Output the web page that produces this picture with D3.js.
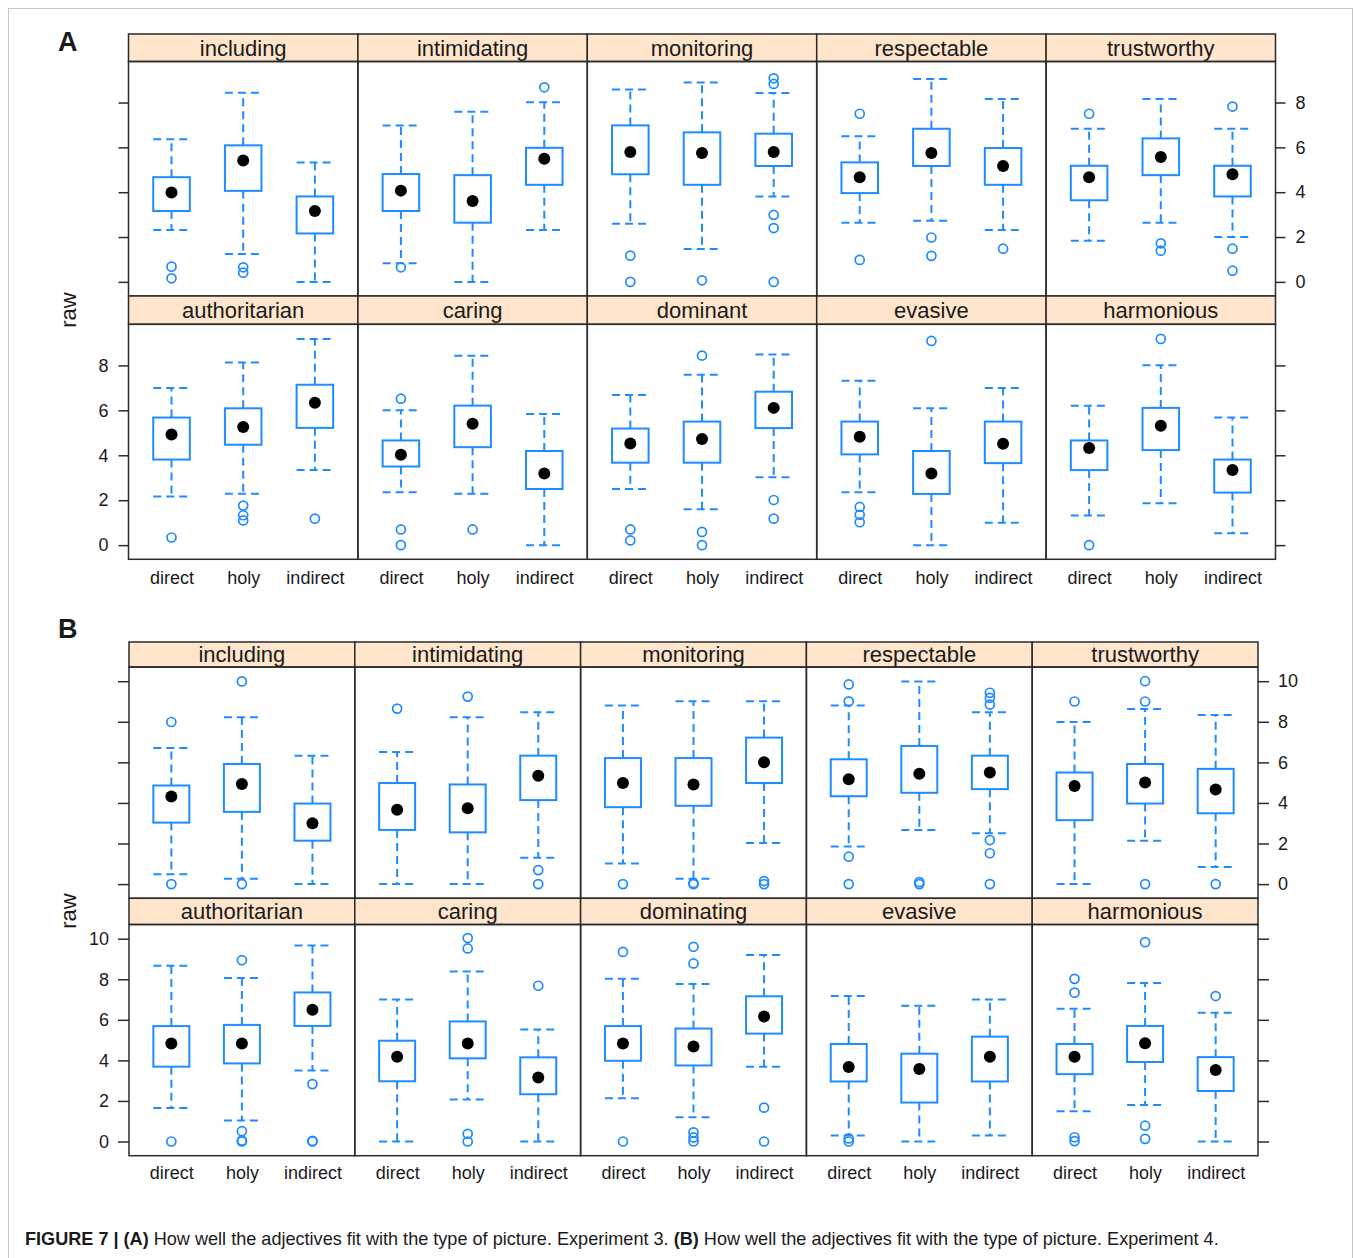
<!DOCTYPE html>
<html>
<head>
<meta charset="utf-8">
<script src="https://cdn.jsdelivr.net/npm/d3@7"></script>
<style>
  body { margin: 0; background: #fff; }
  text { font-family: "Liberation Sans", Arial, sans-serif; fill: #1a1a1a; }
</style>
</head>
<body>
<svg id="chart" width="1354" height="1258"></svg>
<script>
const groups = ['direct', 'holy', 'indirect']

// Experiment 3 (panel A), lattice order: top row first
const adjA = ['including', 'intimidating', 'monitoring', 'respectable', 'trustworthy',
  'authoritarian', 'caring', 'dominant', 'evasive', 'harmonious']
// [lower whisker, Q1, median, Q3, upper whisker] for direct / holy / indirect
const boxesA = [
  [[2.31, 3.16, 3.99, 4.67, 6.36], [1.24, 4.06, 5.41, 6.09, 8.44], [0, 2.16, 3.16, 3.81, 5.33]],
  [[0.83, 3.16, 4.07, 4.81, 6.98], [0, 2.64, 3.61, 4.76, 7.59], [2.31, 4.33, 5.49, 5.98, 8.01]],
  [[2.59, 4.8, 5.79, 6.98, 8.58], [1.47, 4.33, 5.75, 6.67, 8.89], [3.81, 5.17, 5.79, 6.61, 8.43]],
  [[2.64, 3.96, 4.67, 5.33, 6.5], [2.73, 5.17, 5.75, 6.83, 9.05], [2.31, 4.33, 5.17, 5.97, 8.16]],
  [[1.84, 3.64, 4.67, 5.18, 6.83], [2.64, 4.76, 5.57, 6.4, 8.16], [2.0, 3.81, 4.8, 5.18, 6.83]],
  [[2.16, 3.81, 4.92, 5.68, 6.99], [2.29, 4.47, 5.26, 6.09, 8.13], [3.34, 5.22, 6.34, 7.14, 9.18]],
  [[2.35, 3.5, 4.02, 4.66, 6.0], [2.29, 4.36, 5.4, 6.21, 8.43], [0, 2.5, 3.19, 4.19, 5.84]],
  [[2.5, 3.67, 4.52, 5.19, 6.68], [1.6, 3.67, 4.72, 5.5, 7.58], [3.02, 5.21, 6.11, 6.83, 8.49]],
  [[2.35, 4.04, 4.83, 5.5, 7.32], [0, 2.28, 3.19, 4.19, 6.09], [1.0, 3.65, 4.51, 5.5, 6.99]],
  [[1.32, 3.34, 4.32, 4.66, 6.2], [1.86, 4.23, 5.31, 6.11, 8.01], [0.53, 2.34, 3.34, 3.81, 5.68]]
]
const outliersA = [
  [[0.68, 0.16], [0.65, 0.41], []],
  [[0.65], [], [8.68]],
  [[1.17, 0], [0.07], [9.08, 8.83, 2.99, 2.4, 0]],
  [[7.5, 0.98], [1.98, 1.16], [1.48]],
  [[7.5], [1.72, 1.39], [7.82, 1.48, 0.5]],
  [[0.34], [1.76, 1.33, 1.1], [1.18]],
  [[6.52, 0.7, 0], [0.7], []],
  [[0.7, 0.21], [8.44, 0.59, 0], [2.01, 1.18]],
  [[1.7, 1.35, 1.02], [9.09], []],
  [[0], [9.18], []]
]
const ticksA = [0, 2, 4, 6, 8]

// Experiment 4 (panel B)
const adjB = ['including', 'intimidating', 'monitoring', 'respectable', 'trustworthy',
  'authoritarian', 'caring', 'dominating', 'evasive', 'harmonious']
const boxesB = [
  [[0.48, 3.03, 4.32, 4.86, 6.71], [0.26, 3.56, 4.93, 5.92, 8.22], [0, 2.14, 3.0, 3.97, 6.33]],
  [[0, 2.67, 3.66, 4.98, 6.51], [0, 2.55, 3.74, 4.91, 8.22], [1.3, 4.14, 5.34, 6.33, 8.47]],
  [[1.02, 3.79, 4.98, 6.21, 8.8], [0.26, 3.86, 4.91, 6.21, 9.01], [2.03, 4.98, 6.0, 7.22, 9.01]],
  [[1.85, 4.33, 5.17, 6.15, 8.8], [2.67, 4.5, 5.44, 6.81, 9.99], [2.5, 4.68, 5.5, 6.33, 8.47]],
  [[0, 3.15, 4.84, 5.5, 7.99], [2.14, 3.97, 5.01, 5.92, 8.63], [0.84, 3.49, 4.66, 5.68, 8.34]],
  [[1.65, 3.69, 4.83, 5.69, 8.66], [1.03, 3.85, 4.83, 5.75, 8.06], [3.5, 5.7, 6.5, 7.35, 9.67]],
  [[0, 2.97, 4.18, 4.97, 7.0], [2.07, 4.1, 4.83, 5.92, 8.38], [0, 2.33, 3.16, 4.15, 5.52]],
  [[2.13, 3.98, 4.83, 5.69, 8.02], [1.19, 3.75, 4.68, 5.57, 7.77], [3.69, 5.32, 6.16, 7.16, 9.19]],
  [[0.3, 2.96, 3.67, 4.81, 7.17], [0, 1.92, 3.57, 4.33, 6.69], [0.3, 2.96, 4.18, 5.17, 7.0]],
  [[1.49, 3.32, 4.18, 4.81, 6.54], [1.8, 3.92, 4.84, 5.7, 7.82], [0, 2.49, 3.52, 4.16, 6.35]]
]
const outliersB = [
  [[7.99, 0], [9.99, 0], []],
  [[8.65], [9.24], [0.69, 0]],
  [[0], [0.05, 0], [0.15, 0]],
  [[9.84, 9.01, 1.35, 0], [0.1, 0], [9.43, 9.18, 8.85, 2.17, 1.52, 0]],
  [[9.0], [10.0, 9.0, 0], [0]],
  [[0], [8.94, 0.51, 0.05, 0], [2.83, 0.03, 0]],
  [[], [10.03, 9.52, 0.38, 0], [7.68]],
  [[9.35, 0], [9.6, 8.78, 0.45, 0.2, 0], [1.67, 0]],
  [[0.15, 0], [], []],
  [[8.02, 7.34, 0.21, 0.02], [9.83, 0.78, 0.13], [7.17]]
]
const ticksB = [0, 2, 4, 6, 8, 10]

const blue = '#1e8bff'
const dark = '#2b2b2b'

const svg = d3.select('#chart')
svg.append('rect').attr('width', 1354).attr('height', 1258).attr('fill', '#fff')
svg.append('rect')
    .attr('x', 8.5).attr('y', 8.5).attr('width', 1344).attr('height', 1270)
    .attr('fill', 'none').attr('stroke', '#c8c8c8')

function drawLattice(cfg) {
    const g = svg.append('g')
    const colW = (cfg.right - cfg.left) / 5

    cfg.rows.forEach(([stripTop, top, bottom], row) => {
        const y = d3.scaleLinear().domain(cfg.domain).range([bottom, top])
        const left = g.append('g')
            .attr('transform', `translate(${cfg.left},0)`)
            .call(d3.axisLeft(y).tickValues(cfg.ticks).tickSize(cfg.tick).tickPadding(cfg.pad)
                .tickFormat(row === 1 ? d3.format('d') : ''))
        const right = g.append('g')
            .attr('transform', `translate(${cfg.right},0)`)
            .call(d3.axisRight(y).tickValues(cfg.ticks).tickSize(cfg.tick).tickPadding(cfg.pad)
                .tickFormat(row === 0 ? d3.format('d') : ''))
        ;[left, right].forEach(a => {
            a.select('.domain').remove()
            a.selectAll('line').attr('stroke', dark).attr('stroke-width', 1.5)
            a.selectAll('text').style('font-size', '18px').attr('fill', '#1a1a1a')
        })
    })

    cfg.adj.forEach((name, i) => {
        const row = Math.floor(i / 5), col = i % 5
        const [stripTop, top, bottom] = cfg.rows[row]
        const x0 = cfg.left + col * colW
        const x = d3.scalePoint().domain(groups).range([x0, x0 + colW]).padding(0.6)
        const y = d3.scaleLinear().domain(cfg.domain).range([bottom, top])
        const bw = x.step() * 0.51

        // strip
        g.append('rect')
            .attr('x', x0).attr('y', stripTop).attr('width', colW).attr('height', top - stripTop)
            .attr('fill', '#ffe5cc').attr('stroke', dark).attr('stroke-width', 1.5)
        g.append('text')
            .attr('x', x0 + colW / 2).attr('y', top - cfg.stripBase)
            .attr('text-anchor', 'middle').style('font-size', cfg.stripFont + 'px')
            .text(name)

        const p = g.append('g')
        const stats = cfg.boxes[i]
        groups.forEach((grp, j) => {
            const [lo, q1, med, q3, hi] = stats[j]
            const cx = x(grp)
            const b = p.append('g')
            b.selectAll('line.wh')
                .data([[q3, hi], [q1, lo]])
                .enter().append('line')
                .attr('x1', cx).attr('x2', cx)
                .attr('y1', d => y(d[0])).attr('y2', d => y(d[1]))
                .attr('stroke', blue).attr('stroke-width', 2).attr('stroke-dasharray', '8,5')
            b.selectAll('line.cap')
                .data([hi, lo])
                .enter().append('line')
                .attr('x1', cx - bw / 2).attr('x2', cx + bw / 2)
                .attr('y1', d => y(d)).attr('y2', d => y(d))
                .attr('stroke', blue).attr('stroke-width', 2).attr('stroke-dasharray', '8,5')
            b.append('rect')
                .attr('x', cx - bw / 2).attr('y', y(q3))
                .attr('width', bw).attr('height', y(q1) - y(q3))
                .attr('fill', '#fff').attr('stroke', blue).attr('stroke-width', 2)
            b.append('circle')
                .attr('cx', cx).attr('cy', y(med)).attr('r', 6).attr('fill', '#000')
            b.selectAll('circle.out')
                .data(cfg.outliers[i][j])
                .enter().append('circle')
                .attr('cx', cx).attr('cy', d => y(d)).attr('r', 4.5)
                .attr('fill', 'none').attr('stroke', blue).attr('stroke-width', 1.7)
        })

        g.append('rect')
            .attr('x', x0).attr('y', top).attr('width', colW).attr('height', bottom - top)
            .attr('fill', 'none').attr('stroke', dark).attr('stroke-width', 1.5)

        if (row === 1) {
            const ax = g.append('g')
                .attr('transform', `translate(0,${bottom})`)
                .call(d3.axisBottom(x).tickSize(0).tickPadding(cfg.xpad))
            ax.select('.domain').remove()
            ax.selectAll('text').style('font-size', '18px').attr('fill', '#1a1a1a')
        }
    })

    svg.append('text')
        .attr('transform', `translate(76,${cfg.ylabY}) rotate(-90)`)
        .attr('text-anchor', 'middle').style('font-size', '22px')
        .text('raw')
    svg.append('text')
        .attr('x', 58).attr('y', cfg.letterY)
        .style('font-size', '27px').style('font-weight', 'bold').attr('fill', '#000')
        .text(cfg.letter)
}

drawLattice({
    adj: adjA, boxes: boxesA, outliers: outliersA, ticks: ticksA,
    left: 128.5, right: 1275.5, domain: [-0.63, 9.83],
    rows: [[34, 61.5, 296], [296, 324.3, 559.3]],
    tick: 10, pad: 10, xpad: 12, stripFont: 22, stripBase: 6,
    ylabY: 310, letter: 'A', letterY: 51
})

drawLattice({
    adj: adjB, boxes: boxesB, outliers: outliersB, ticks: ticksB,
    left: 129, right: 1258, domain: [-0.7, 10.7],
    rows: [[642, 667, 898.3], [898.3, 924.5, 1155.7]],
    tick: 11, pad: 9, xpad: 11, stripFont: 22, stripBase: 5.5,
    ylabY: 911, letter: 'B', letterY: 638
})

const caption = svg.append('text')
    .attr('x', 25).attr('y', 1245).style('font-size', '18.1px').attr('fill', '#222')
caption.append('tspan').style('font-weight', 'bold').text('FIGURE 7 | (A)')
caption.append('tspan').text(' How well the adjectives fit with the type of picture. Experiment 3. ')
caption.append('tspan').style('font-weight', 'bold').text('(B)')
caption.append('tspan').text(' How well the adjectives fit with the type of picture. Experiment 4.')
</script>
</body>
</html>
